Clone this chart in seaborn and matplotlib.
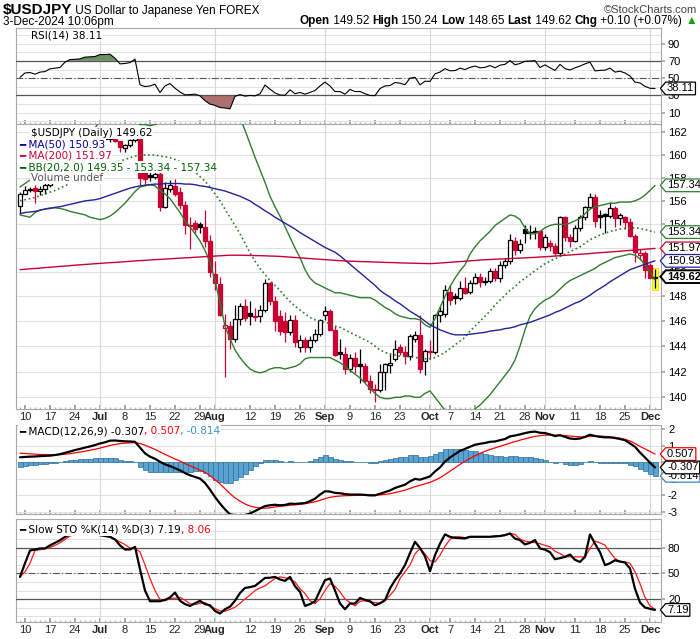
import numpy as np
import pandas as pd
import matplotlib
matplotlib.use("Agg")
import matplotlib.pyplot as plt
import seaborn as sns
from matplotlib.path import Path
from matplotlib.ticker import FixedLocator, NullLocator, FuncFormatter
from matplotlib.transforms import blended_transform_factory

sns.set_theme(style="white")
plt.rcParams["font.family"] = ["Liberation Sans", "DejaVu Sans"]

# ---------------------------------------------------------------- data
dates = pd.bdate_range("2024-06-07", "2024-12-03")

opens = [155.55, 156.6, 156.95, 157.1, 156.85, 157.0, 157.4, 157.6, 157.8, 158.1,
         158.9, 159.8, 159.7, 159.65, 160.75, 160.7, 160.85, 161.45, 161.45, 161.7,
         161.2, 160.6, 160.85, 161.3, 161.6, 158.5, 158.2, 158.05, 158.3, 155.5,
         157.0, 157.3, 156.75, 155.65, 153.9, 154.1, 154.0, 153.75, 152.6, 149.8,
         149.0, 145.45, 145.6, 144.6, 146.15, 147.2, 146.65, 146.45, 146.4, 146.9,
         149.1, 147.6, 146.4, 146.0, 145.1, 146.1, 143.9, 144.5, 143.95, 144.5,
         145.0, 146.5, 146.8, 145.3, 143.5, 143.35, 142.2, 143.1, 142.6, 142.45,
         141.3, 140.65, 140.55, 142.0, 142.5, 143.0, 143.9, 143.55, 143.2, 144.6,
         144.85, 142.8, 143.6, 143.55, 146.5, 146.6, 148.4, 148.0, 147.9, 148.7,
         148.35, 149.1, 149.6, 149.15, 149.25, 150.05, 149.5, 150.6, 150.9, 152.6,
         151.8, 153.6, 153.3, 153.35, 153.4, 152.05, 152.4, 152.15, 151.6, 154.6,
         152.95, 152.6, 153.7, 154.6, 155.5, 156.3, 154.75, 154.9, 154.7, 155.4,
         154.5, 154.6, 154.2, 153.05, 151.45, 151.6, 150.55, 149.52]
highs = [156.75, 157.25, 157.2, 157.4, 157.3, 157.9, 157.75, 157.9, 158.2, 159.0,
         159.9, 159.95, 159.85, 160.85, 160.9, 161.25, 161.65, 161.75, 161.95, 161.8,
         161.25, 161.0, 161.45, 161.75, 161.75, 159.45, 158.7, 158.85, 158.85, 157.65,
         157.8, 157.85, 157.2, 155.95, 154.6, 154.4, 154.2, 155.2, 153.1, 150.9,
         149.6, 146.6, 146.0, 147.3, 147.5, 147.8, 147.6, 147.1, 147.3, 149.4,
         149.2, 148.0, 146.9, 146.7, 146.5, 146.5, 144.9, 144.7, 144.8, 145.4,
         146.2, 147.2, 147.0, 145.6, 144.6, 143.9, 143.4, 143.5, 143.8, 142.7,
         141.7, 141.0, 142.6, 142.7, 143.4, 144.5, 144.2, 144.0, 145.0, 145.2,
         146.5, 143.8, 144.5, 146.6, 147.25, 148.9, 148.9, 148.3, 149.3, 149.6,
         149.35, 149.95, 149.9, 149.6, 150.3, 150.3, 150.9, 151.2, 153.2, 152.9,
         152.75, 153.9, 153.9, 153.75, 153.5, 153.2, 152.7, 152.4, 154.7, 154.7,
         153.2, 153.9, 154.8, 155.6, 156.7, 156.6, 155.2, 155.0, 155.9, 155.6,
         155.0, 154.7, 154.5, 153.2, 151.9, 151.75, 150.75, 150.24]
lows = [155.0, 156.55, 156.75, 155.85, 156.5, 156.6, 157.2, 157.55, 157.7, 157.9,
        158.8, 159.25, 159.4, 159.6, 160.3, 160.55, 160.8, 161.3, 161.15, 161.15,
        160.25, 160.25, 160.7, 161.1, 157.4, 157.4, 157.75, 157.9, 155.1, 155.4,
        156.8, 156.4, 155.3, 153.2, 151.95, 153.3, 153.3, 152.1, 149.6, 148.5,
        146.4, 141.6, 143.8, 144.3, 145.7, 146.0, 145.7, 146.0, 145.9, 146.7,
        147.3, 145.2, 144.9, 144.3, 144.9, 143.95, 143.5, 143.5, 143.5, 144.3,
        144.8, 146.1, 145.3, 143.2, 143.0, 141.8, 142.0, 141.9, 141.1, 141.2,
        140.3, 139.6, 140.4, 140.6, 141.9, 142.8, 143.3, 142.6, 142.9, 144.3,
        141.9, 141.7, 142.95, 143.4, 145.9, 146.3, 147.3, 147.35, 147.7, 148.2,
        148.2, 149.0, 148.8, 148.9, 149.1, 149.3, 149.2, 150.3, 150.7, 151.45,
        151.6, 152.4, 152.8, 152.8, 151.8, 151.8, 151.75, 151.3, 151.3, 152.6,
        152.1, 152.5, 153.4, 154.4, 155.3, 153.8, 153.7, 153.3, 154.5, 153.8,
        153.9, 153.6, 152.9, 150.8, 151.0, 149.5, 149.5, 148.65]
closes = [156.6, 156.95, 157.05, 156.85, 157.05, 157.4, 157.6, 157.8, 158.1, 158.9,
          159.8, 159.7, 159.65, 160.75, 160.7, 160.85, 161.45, 161.45, 161.7, 161.2,
          160.7, 160.85, 161.3, 161.6, 158.0, 157.85, 158.05, 158.3, 155.5, 157.1,
          157.4, 156.6, 155.65, 153.9, 153.85, 153.6, 153.75, 152.6, 150.0, 149.1,
          146.5, 145.7, 144.6, 146.15, 147.2, 146.25, 146.45, 146.3, 146.9, 149.1,
          147.6, 146.0, 145.2, 145.15, 146.1, 144.3, 144.5, 143.9, 144.5, 145.0,
          146.1, 146.8, 145.3, 143.3, 143.35, 142.2, 143.1, 142.4, 142.45, 141.3,
          140.65, 140.55, 142.0, 142.6, 142.7, 143.8, 143.55, 143.2, 144.8, 144.85,
          142.2, 143.6, 143.55, 146.5, 146.85, 148.5, 147.75, 147.85, 148.7, 148.3,
          149.1, 149.6, 149.15, 149.3, 150.05, 149.55, 150.6, 150.9, 152.7, 151.8,
          152.3, 153.3, 153.35, 153.4, 152.05, 152.95, 152.15, 151.6, 154.6, 152.95,
          152.6, 153.7, 154.6, 155.5, 156.3, 154.3, 154.65, 154.7, 155.4, 154.5,
          154.8, 154.2, 153.05, 151.65, 151.6, 150.15, 149.52, 149.62]

ma50 = [154.9, 155.0, 155.05, 155.1, 155.2, 155.3, 155.35, 155.45, 155.5, 155.6,
        155.7, 155.8, 155.9, 156.0, 156.05, 156.1, 156.2, 156.35, 156.5, 156.65,
        156.8, 156.95, 157.1, 157.2, 157.3, 157.35, 157.4, 157.45, 157.45, 157.5,
        157.5, 157.5, 157.5, 157.45, 157.45, 157.4, 157.3, 157.25, 157.15, 157.05,
        156.95, 156.85, 156.7, 156.55, 156.4, 156.2, 156.0, 155.7, 155.45, 155.15,
        154.9, 154.6, 154.35, 154.1, 153.85, 153.6, 153.3, 153.05, 152.8, 152.55,
        152.3, 152.05, 151.85, 151.65, 151.35, 151.0, 150.65, 150.3, 149.95, 149.6,
        149.25, 148.9, 148.5, 148.2, 147.95, 147.65, 147.4, 147.1, 146.8, 146.55,
        146.3, 146.0, 145.7, 145.5, 145.3, 145.15, 145.0, 144.9, 144.9, 144.9,
        144.95, 145.0, 145.05, 145.1, 145.2, 145.25, 145.3, 145.4, 145.45, 145.55,
        145.7, 145.8, 145.9, 146.05, 146.2, 146.35, 146.5, 146.7, 146.85, 147.05,
        147.25, 147.45, 147.6, 147.85, 148.1, 148.4, 148.65, 148.9, 149.2, 149.45,
        149.7, 149.95, 150.2, 150.35, 150.5, 150.65, 150.8, 150.93]
ma200 = [150.20, 150.23, 150.27, 150.30, 150.33, 150.37, 150.40, 150.43, 150.47, 150.50,
         150.53, 150.57, 150.60, 150.63, 150.66, 150.69, 150.72, 150.75, 150.78, 150.80,
         150.83, 150.86, 150.89, 150.92, 150.95, 150.97, 151.00, 151.03, 151.05, 151.08,
         151.10, 151.13, 151.15, 151.18, 151.20, 151.23, 151.25, 151.28, 151.30, 151.33,
         151.35, 151.38, 151.40, 151.40, 151.40, 151.39, 151.38, 151.37, 151.36, 151.35,
         151.33, 151.32, 151.30, 151.27, 151.24, 151.21, 151.18, 151.15, 151.12, 151.09,
         151.06, 151.03, 151.00, 150.97, 150.95, 150.92, 150.90, 150.89, 150.87, 150.86,
         150.85, 150.83, 150.82, 150.80, 150.79, 150.78, 150.76, 150.75, 150.74, 150.73,
         150.72, 150.71, 150.70, 150.72, 150.75, 150.78, 150.81, 150.84, 150.87, 150.90,
         150.93, 150.96, 151.00, 151.02, 151.04, 151.06, 151.08, 151.10, 151.12, 151.14,
         151.16, 151.18, 151.20, 151.22, 151.25, 151.27, 151.30, 151.33, 151.36, 151.39,
         151.42, 151.45, 151.48, 151.51, 151.54, 151.58, 151.61, 151.64, 151.67, 151.70,
         151.73, 151.77, 151.80, 151.83, 151.86, 151.90, 151.93, 151.97]
bb_mid = [156.0, 156.1, 156.2, 156.3, 156.45, 156.6, 156.75, 156.9, 157.1, 157.3,
          157.5, 157.7, 157.85, 158.05, 158.25, 158.45, 158.7, 158.9, 159.1, 159.3,
          159.45, 159.6, 159.75, 159.9, 159.95, 160.0, 160.0, 160.0, 159.9, 159.85,
          159.75, 159.6, 159.4, 159.1, 158.8, 158.5, 158.1, 157.7, 157.2, 156.6,
          156.0, 155.3, 154.6, 153.9, 153.2, 152.4, 151.6, 150.9, 150.3, 149.8,
          149.3, 148.9, 148.5, 148.0, 147.6, 147.2, 146.9, 146.6, 146.3, 146.1,
          146.0, 145.9, 145.8, 145.6, 145.5, 145.3, 145.1, 144.9, 144.7, 144.5,
          144.3, 144.0, 143.7, 143.5, 143.4, 143.3, 143.2, 143.2, 143.15, 143.1,
          143.05, 143.0, 143.0, 143.1, 143.3, 143.5, 143.8, 144.1, 144.4, 144.7,
          145.2, 145.6, 146.0, 146.4, 146.8, 147.3, 147.7, 148.1, 148.5, 148.8,
          149.2, 149.5, 149.8, 150.1, 150.4, 150.7, 150.9, 151.1, 151.3, 151.5,
          151.7, 151.9, 152.1, 152.4, 152.7, 152.9, 153.1, 153.25, 153.4, 153.5,
          153.6, 153.65, 153.7, 153.7, 153.65, 153.55, 153.45, 153.34]
bb_lower = [154.8, 154.7, 154.6, 155.0, 155.2, 155.3, 155.4, 155.4, 155.35, 155.25,
            155.1, 155.0, 154.9, 154.8, 154.6, 154.5, 154.4, 154.5, 154.7, 155.0,
            155.4, 155.8, 156.3, 156.8, 157.2, 157.3, 157.4, 157.3, 156.9, 156.6,
            156.2, 155.6, 155.0, 154.3, 153.8, 153.2, 152.6, 151.8, 150.8, 149.3,
            147.5, 145.6, 144.6, 143.7, 143.1, 142.6, 142.2, 142.0, 141.9, 142.0,
            142.2, 142.3, 142.3, 142.2, 142.3, 142.4, 142.6, 143.0, 143.1, 143.1,
            143.1, 143.1, 143.1, 142.9, 142.7, 142.4, 142.1, 141.8, 141.5, 141.1,
            140.7, 140.3, 140.0, 139.9, 139.9, 140.0, 140.0, 140.1, 140.1, 140.0,
            140.0, 140.3, 140.5, 140.0, 139.5, 139.0, 138.8, 138.7, 138.7, 138.8,
            138.9, 139.1, 139.4, 139.8, 140.2, 140.7, 141.2, 141.7, 142.2, 142.9,
            144.0, 145.3, 146.4, 147.0, 147.4, 147.7, 147.9, 148.2, 148.6, 149.0,
            149.3, 149.5, 149.7, 149.9, 150.1, 150.3, 150.6, 150.8, 151.0, 151.2,
            151.3, 151.4, 151.5, 151.4, 151.1, 150.6, 150.0, 149.35]
bb_upper = [157.2, 157.5, 157.8, 157.6, 157.7, 157.9, 158.1, 158.4, 158.85, 159.35,
            159.9, 160.4, 160.8, 161.3, 161.9, 162.4, 163.0, 163.3, 163.5, 163.6,
            163.5, 163.4, 163.2, 163.0, 162.7, 162.7, 162.6, 162.7, 162.9, 163.1,
            163.3, 163.6, 163.8, 163.9, 163.8, 163.8, 163.6, 163.6, 163.6, 163.9,
            164.5, 165.0, 164.6, 164.1, 163.3, 162.2, 161.0, 159.8, 158.7, 157.6,
            156.4, 155.5, 154.7, 153.8, 152.9, 152.0, 151.2, 150.2, 149.5, 149.1,
            148.9, 148.7, 148.5, 148.3, 148.3, 148.2, 148.1, 148.0, 147.9, 147.9,
            147.9, 147.7, 147.4, 147.1, 146.9, 146.6, 146.4, 146.3, 146.2, 146.2,
            146.1, 145.7, 145.5, 146.2, 147.1, 148.0, 148.8, 149.5, 150.1, 150.6,
            151.5, 152.1, 152.6, 153.0, 153.4, 153.9, 154.2, 154.5, 154.8, 154.7,
            154.4, 153.7, 153.2, 153.2, 153.4, 153.7, 153.9, 154.0, 154.0, 154.0,
            154.1, 154.3, 154.5, 154.9, 155.3, 155.5, 155.6, 155.7, 155.8, 155.8,
            155.9, 155.9, 155.9, 156.0, 156.2, 156.5, 156.9, 157.34]

rsi = [51, 56, 56.5, 54.6, 57, 57.6, 60.8, 61.5, 62.3, 68.5,
       71.5, 71.8, 72.3, 74.3, 74.6, 75, 77.3, 77.3, 77.7, 73,
       66.5, 67, 68, 72, 42.3, 40.3, 41, 43, 33.4, 41,
       43.8, 38.4, 34, 30.7, 31, 31.5, 29.5, 24, 20, 18.5,
       16, 15.5, 14.5, 29, 31, 29.2, 30, 29.5, 32, 42,
       37.3, 33, 30.5, 30.3, 36.5, 32, 33.5, 31.5, 33.5, 35.7,
       41, 45.4, 41, 34.5, 34.5, 31.5, 37, 34.5, 34.6, 32,
       30, 29.8, 38, 41, 41.5, 45, 44.2, 42.5, 50, 51,
       42.3, 46.5, 46.3, 55, 57, 61, 58.5, 58.8, 61.5, 60,
       62.5, 64, 62, 62.5, 64.6, 62, 65, 66, 70.3, 65.4,
       67, 69.5, 69.8, 70.3, 62.3, 65.4, 62, 59, 66, 61,
       59.5, 62, 64, 66.5, 68.5, 58.4, 59, 59.3, 61.6, 57,
       58, 56, 52.5, 45.4, 44.5, 40.5, 38.3, 38.11]

macd = [0.31, 0.33, 0.35, 0.36, 0.38, 0.40, 0.41, 0.45, 0.50, 0.58,
        0.66, 0.75, 0.82, 0.90, 0.97, 1.05, 1.15, 1.22, 1.32, 1.33,
        1.30, 1.28, 1.27, 1.25, 0.90, 0.55, 0.35, 0.22, 0.04, -0.12,
        -0.22, -0.35, -0.48, -0.65, -0.78, -0.88, -0.98, -1.25, -1.65, -2.10,
        -2.50, -2.85, -3.15, -3.20, -3.25, -3.20, -3.10, -2.95, -2.80, -2.65,
        -2.60, -2.57, -2.60, -2.58, -2.50, -2.52, -2.49, -2.47, -2.35, -2.20,
        -1.95, -1.75, -1.77, -1.85, -1.87, -1.92, -1.95, -1.95, -1.95, -1.97,
        -2.00, -2.00, -1.90, -1.80, -1.70, -1.55, -1.45, -1.35, -1.15, -1.00,
        -1.05, -0.95, -0.85, -0.55, -0.30, 0.05, 0.30, 0.50, 0.70, 0.82,
        0.95, 1.07, 1.13, 1.18, 1.25, 1.27, 1.35, 1.42, 1.58, 1.63,
        1.70, 1.78, 1.84, 1.87, 1.80, 1.78, 1.70, 1.60, 1.65, 1.55,
        1.45, 1.42, 1.45, 1.55, 1.68, 1.60, 1.55, 1.52, 1.52, 1.48,
        1.42, 1.35, 1.15, 0.95, 0.60, 0.30, -0.02, -0.307]
macd_signal = [0.56, 0.54, 0.52, 0.50, 0.48, 0.47, 0.46, 0.46, 0.47, 0.50,
               0.53, 0.58, 0.63, 0.68, 0.74, 0.80, 0.87, 0.95, 1.03, 1.09,
               1.14, 1.17, 1.19, 1.20, 1.15, 1.04, 0.92, 0.79, 0.64, 0.49,
               0.35, 0.21, 0.08, -0.07, -0.20, -0.33, -0.47, -0.60, -0.80, -1.05,
               -1.30, -1.60, -1.90, -2.15, -2.35, -2.52, -2.65, -2.72, -2.77, -2.78,
               -2.75, -2.70, -2.66, -2.63, -2.60, -2.57, -2.54, -2.50, -2.45, -2.39,
               -2.30, -2.20, -2.12, -2.07, -2.04, -2.02, -2.01, -2.00, -1.99, -1.98,
               -1.98, -1.98, -1.97, -1.94, -1.90, -1.83, -1.76, -1.68, -1.58, -1.47,
               -1.39, -1.30, -1.21, -1.08, -0.93, -0.74, -0.53, -0.33, -0.12, 0.07,
               0.24, 0.40, 0.55, 0.67, 0.79, 0.88, 0.98, 1.07, 1.17, 1.26,
               1.35, 1.43, 1.51, 1.58, 1.62, 1.65, 1.66, 1.65, 1.65, 1.63,
               1.60, 1.57, 1.55, 1.55, 1.58, 1.60, 1.60, 1.58, 1.55, 1.52,
               1.47, 1.40, 1.30, 1.15, 0.97, 0.82, 0.66, 0.507]

sto_k = [46, 62, 77, 78, 79.4, 79.4, 83, 86, 89, 93,
         96, 97, 97, 98, 97, 96, 95, 94, 93, 90,
         83, 78.2, 78.2, 81.3, 55, 30, 17.4, 17.4, 17.4, 19,
         21.8, 27.6, 18, 14, 11.9, 15, 17.8, 14, 12.7, 6,
         2.9, 8, 11, 18, 27, 33, 34, 35.4, 40, 44.8,
         45, 46, 43, 41.3, 46, 35, 28.4, 11.9, 14, 17.4,
         30, 42.1, 44.1, 30, 14.7, 8, 14.7, 14.7, 21.3, 19,
         17.4, 12.7, 15, 18.6, 32.4, 42.1, 50, 60, 74, 87.2,
         80, 70, 52.7, 71.5, 85, 95.9, 93, 91.9, 91.5, 91.2,
         93.1, 93.1, 93.1, 93.1, 93.1, 93.5, 94, 95, 97, 91,
         89.2, 84.1, 86, 89.2, 79.4, 78, 75, 66.8, 68, 69.5,
         72.3, 66, 63.6, 69.5, 95.9, 85, 75, 59.8, 62, 65.6,
         64, 62.9, 55.9, 32, 15.9, 10, 8.5, 7.19]
sto_d = [46, 52, 62, 77, 78, 79, 80.6, 83, 86, 90,
         94, 96, 97, 97, 97.5, 97, 96, 95, 94, 90,
         87, 84, 79.8, 79, 75.4, 60, 44.1, 30, 19.4, 18,
         20.6, 21, 22, 18.6, 14.5, 13.5, 15, 15.9, 11, 8.8,
         6, 5.6, 8, 10.3, 15, 20, 24.5, 30, 33, 35.4,
         40, 44, 46, 45, 43.3, 40, 32, 26.5, 18, 14.7,
         20, 30, 38.2, 35, 28.4, 20, 15.9, 12, 17.4, 18,
         16.5, 15.9, 15, 18, 24.5, 31, 44.1, 52, 60, 73,
         79.4, 73, 65, 63.6, 71.5, 82, 90, 93.1, 93.1, 92,
         93.1, 93.1, 93.1, 93.2, 93.3, 94, 94.5, 95.5, 97, 96,
         90.4, 88, 87, 86.3, 85, 83, 81.3, 76, 73.4, 70,
         69.5, 69.5, 69.5, 69.5, 79.4, 88, 86, 83.3, 75, 67.6,
         64, 63.6, 62, 52, 38, 22, 12, 8.06]

tick_dates = ["2024-06-10", "2024-06-17", "2024-06-24", "2024-07-01", "2024-07-08",
              "2024-07-15", "2024-07-22", "2024-07-29", "2024-08-01", "2024-08-12",
              "2024-08-19", "2024-08-26", "2024-09-02", "2024-09-09", "2024-09-16",
              "2024-09-23", "2024-10-01", "2024-10-07", "2024-10-14", "2024-10-21",
              "2024-10-28", "2024-11-01", "2024-11-11", "2024-11-18", "2024-11-25",
              "2024-12-02"]
tick_labels = ["10", "17", "24", "Jul", "8", "15", "22", "29", "Aug", "12", "19", "26",
               "Sep", "9", "16", "23", "Oct", "7", "14", "21", "28", "Nov", "11", "18",
               "25", "Dec"]
month_names = ["Jul", "Aug", "Sep", "Oct", "Nov", "Dec"]

# ---------------------------------------------------------------- frame
n = len(dates)
series = dict(open=opens, high=highs, low=lows, close=closes, ma50=ma50, ma200=ma200,
              bb_mid=bb_mid, bb_lower=bb_lower, bb_upper=bb_upper, rsi=rsi, macd=macd,
              signal=macd_signal, k=sto_k, d=sto_d)
for k_, v_ in series.items():
    assert len(v_) == n, (k_, len(v_))
df = pd.DataFrame(series)
df["i"] = np.arange(n)
df["hist"] = df["macd"] - df["signal"]
idx = df["i"].values
tick_pos = [dates.get_loc(pd.Timestamp(d)) for d in tick_dates]
month_pos = [p for p, l in zip(tick_pos, tick_labels) if l in month_names]

W, H = 700, 639
fig = plt.figure(figsize=(W / 100, H / 100), dpi=100)
fig.patch.set_facecolor("white")


def rect(x0, y0, x1, y1):
    return [x0 / W, 1 - y1 / H, (x1 - x0) / W, (y1 - y0) / H]


ax_rsi = fig.add_axes(rect(16, 28, 661, 124))
ax_px = fig.add_axes(rect(16, 124, 661, 409))
ax_macd = fig.add_axes(rect(16, 425, 661, 514))
ax_sto = fig.add_axes(rect(16, 519, 661, 622))
axes = [ax_rsi, ax_px, ax_macd, ax_sto]

GRID = "#e2e2e2"
EDGE = "#a8a8a8"
RED = "#cc0033"
GREEN = "#2f7d2f"
NAVY = "#22229c"
LEVEL = "#555555"


def line(ax, col, color, lw, ls="-", z=7):
    sns.lineplot(data=df, x="i", y=col, ax=ax, color=color, linewidth=lw,
                 linestyle=ls, legend=False, zorder=z)


# ---------------------------------------------------------------- price panel
ax = ax_px
O = df["open"].values; C = df["close"].values
Hi = df["high"].values; Lo = df["low"].values
prev = np.r_[O[0], C[:-1]]
col = np.where(C < prev, RED, "black")
face = np.where(C >= O, "white", col)
ax.bar(idx[-1], Hi[-1] * 1.0004 - Lo[-1] * 0.9993, bottom=Lo[-1] * 0.9993, width=1.35,
       color="#ffff30", edgecolor="#e6d200", linewidth=0.5, zorder=4)
ax.vlines(idx, Lo, Hi, colors=col, linewidth=0.9, zorder=5)
ax.bar(idx, np.maximum(np.abs(C - O), 0.02), bottom=np.minimum(O, C), width=0.62,
       color=face, edgecolor=col, linewidth=0.9, zorder=6)
line(ax, "bb_upper", GREEN, 1.0)
line(ax, "bb_lower", GREEN, 1.0)
line(ax, "bb_mid", GREEN, 1.2, ":")
line(ax, "ma50", NAVY, 1.0)
line(ax, "ma200", RED, 1.0)
ax.set_yscale("log")
ax.set_ylim(139.1, 162.75)
ax.yaxis.set_major_locator(FixedLocator(np.arange(140, 163, 2)))
ax.yaxis.set_major_formatter(FuncFormatter(lambda v, p: f"{v:.0f}"))
ax.yaxis.set_minor_locator(NullLocator())
ax.grid(axis="y", which="major", color=GRID, linewidth=0.8, zorder=0)

# ---------------------------------------------------------------- RSI
ax = ax_rsi
r = df["rsi"].values
ax.fill_between(idx, r, 70, where=r >= 70, interpolate=True, color="#6a9166", zorder=3, linewidth=0)
ax.fill_between(idx, r, 30, where=r <= 30, interpolate=True, color="#ad6f6f", zorder=3, linewidth=0)
for lv in (70, 30):
    ax.axhline(lv, color=LEVEL, linewidth=0.9, zorder=4)
ax.axhline(50, color=LEVEL, linewidth=0.8, linestyle=(0, (6, 2, 1, 2)), zorder=4)
line(ax, "rsi", "black", 0.8)
ax.set_ylim(-3, 108)
ax.yaxis.set_major_locator(FixedLocator([10, 30, 50, 70, 90]))
ax.yaxis.set_minor_locator(FixedLocator(np.arange(0, 101, 10)))
ax.grid(axis="y", which="both", color=GRID, linewidth=0.7, zorder=0)

# ---------------------------------------------------------------- MACD
ax = ax_macd
ax.bar(idx, df["hist"], width=1.0, color="#5aa3d1", edgecolor="#2d6f9c", linewidth=0.5, zorder=3)
line(ax, "signal", "#ff0000", 0.9)
line(ax, "macd", "black", 1.6, z=8)
ax.set_ylim(-3.13, 2.27)
ax.yaxis.set_major_locator(FixedLocator([-3, -2, -1, 0, 1, 2]))
ax.yaxis.set_major_formatter(FuncFormatter(lambda v, p: f"{v:.0f}"))
ax.grid(axis="y", which="major", color=GRID, linewidth=0.8, zorder=0)

# ---------------------------------------------------------------- STO
ax = ax_sto
for lv in (80, 20):
    ax.axhline(lv, color=LEVEL, linewidth=0.9, zorder=4)
ax.axhline(50, color=LEVEL, linewidth=0.8, linestyle=(0, (6, 2, 1, 2)), zorder=4)
line(ax, "d", "#ff1a1a", 0.9)
line(ax, "k", "black", 1.6, z=8)
ax.set_ylim(-7, 114)
ax.yaxis.set_major_locator(FixedLocator([20, 50, 80]))
ax.yaxis.set_minor_locator(FixedLocator(np.arange(0, 101, 10)))
ax.grid(axis="y", which="both", color=GRID, linewidth=0.7, zorder=0)

# ---------------------------------------------------------------- common styling
for ax in axes:
    ax.set_facecolor("white")
    ax.set_xlabel("")
    ax.set_ylabel("")
    ax.set_xlim(-0.8, n + 0.2)
    for s in ax.spines.values():
        s.set_color(EDGE)
        s.set_linewidth(0.8)
    for p in month_pos:
        ax.axvline(p, color="#d8d8d8", linewidth=0.8, zorder=1)
    ax.yaxis.tick_right()
    ax.tick_params(axis="y", which="major", labelsize=8, length=3, color=EDGE, pad=2,
                   right=True, left=False, labelcolor="black")
    ax.tick_params(axis="y", which="minor", length=0)
    ax.set_xticks(tick_pos)
    ax.xaxis.set_minor_locator(FixedLocator(idx))
    ax.tick_params(axis="x", which="major", direction="in", length=3, color="#999999",
                   labelsize=8, pad=2, bottom=True, top=False)
    ax.tick_params(axis="x", which="minor", direction="in", length=1.5, color="#bbbbbb",
                   bottom=True, top=False)
    if ax in (ax_px, ax_sto):
        ax.set_xticklabels(tick_labels)
        for lbl in ax.get_xticklabels():
            if lbl.get_text() in month_names:
                lbl.set_fontweight("bold")
    else:
        ax.tick_params(axis="x", labelbottom=False)


# ---------------------------------------------------------------- value tags
def tag_shape(x0, y0, width, height, mutation_size):
    pad = mutation_size * 0.12
    x0, y0 = x0 - pad, y0 - pad
    w, h = width + 2 * pad, height + 2 * pad
    x1, y1 = x0 + w, y0 + h
    tip = h * 0.42
    verts = [(x0, y0), (x1, y0), (x1, y1), (x0, y1), (x0 - tip, y0 + h / 2), (x0, y0)]
    codes = [Path.MOVETO] + [Path.LINETO] * 4 + [Path.CLOSEPOLY]
    return Path(verts, codes)


def tag(ax, val, txt, ec, lw=0.9, weight="normal"):
    tr = blended_transform_factory(ax.transAxes, ax.transData)
    ax.text(1.0 + 6 / 645, val, txt, transform=tr, ha="left", va="center", fontsize=8,
            fontweight=weight, color="black", clip_on=False, zorder=30,
            bbox=dict(boxstyle=tag_shape, fc="white", ec=ec, lw=lw))


last = n - 1
tag(ax_px, bb_upper[last], f"{bb_upper[last]:.2f}", GREEN)
tag(ax_px, bb_mid[last], f"{bb_mid[last]:.2f}", GREEN)
tag(ax_px, ma200[last], f"{ma200[last]:.2f}", RED)
tag(ax_px, ma50[last], f"{ma50[last]:.2f}", NAVY)
tag(ax_px, closes[last], f"{closes[last]:.2f}", "black", lw=1.4, weight="bold")
tag(ax_rsi, rsi[last], f"{rsi[last]:.2f}", "black")
tag(ax_macd, df["hist"].iloc[-1], f"{df['hist'].iloc[-1]:.3f}", "#3f86bd")
tag(ax_macd, macd_signal[last], f"{macd_signal[last]:.3f}", "#ff0000")
tag(ax_macd, macd[last], f"{macd[last]:.3f}", "black")
tag(ax_sto, sto_k[last], f"{sto_k[last]:.2f}", "black")


# ---------------------------------------------------------------- legends / header
def chain(ax, x_px, y_px, parts, size=7.5, family="DejaVu Sans", bg=True, right=False):
    pieces = parts[::-1] if right else parts
    t = None
    for piece in pieces:
        s, c, w = piece[:3]
        sz = piece[3] if len(piece) > 3 else size
        kw = dict(color=c, fontsize=sz, fontweight=w, family=family, zorder=40)
        if bg:
            kw["bbox"] = dict(fc="white", ec="none", pad=0.4)
        if t is None:
            t = ax.text(x_px / W, 1 - y_px / H, s, transform=fig.transFigure,
                        ha="right" if right else "left", va="center", **kw)
        else:
            t = ax.annotate(s, xy=(0, 0) if right else (1, 0), xycoords=t,
                            ha="right" if right else "left", va="bottom",
                            annotation_clip=False, **kw)
    return t


chain(ax_rsi, 31, 35, [("RSI(14) 38.11", "black", "normal")])
chain(ax_px, 31, 133, [("$USDJPY (Daily) 149.62", "black", "normal")])
chain(ax_px, 19, 145, [("\u2501 MA(50) 150.93", "#000099", "normal")])
chain(ax_px, 19, 156, [("\u2501 MA(200) 151.97", RED, "normal")])
chain(ax_px, 19, 167, [("\u2501 BB(20,2.0) 149.35 - 153.34 - 157.34", "#006600", "normal")])
chain(ax_px, 31, 178, [("Volume undef", "#555555", "normal")])
chain(ax_macd, 19, 431, [("\u2501 MACD(12,26,9) -0.307", "black", "normal"),
                         (", 0.507", "#ff0000", "normal"), (", -0.814", "#3f8fc8", "normal")])
chain(ax_sto, 19, 530, [("\u2501 Slow STO %K(14) %D(3) 7.19", "black", "normal"),
                        (", 8.06", "#ff0000", "normal")])

chain(ax_rsi, 3, 10, [("$USDJPY", "black", "bold", 11), (" US Dollar to Japanese Yen ", "black", "normal", 8.5),
                      ("FOREX", "black", "normal", 8.5)], family="Liberation Sans", bg=False)
chain(ax_rsi, 3, 22, [("3-Dec-2024 10:06pm", "black", "normal")], size=8.5,
      family="Liberation Sans", bg=False)
chain(ax_rsi, 697, 10, [("\u00a9StockCharts.com", "#444444", "normal")], size=8,
      family="Liberation Sans", bg=False, right=True)
chain(ax_rsi, 697, 21, [("Open", "black", "bold"), (" 149.52 ", "black", "normal"),
                        ("High", "black", "bold"), (" 150.24 ", "black", "normal"),
                        ("Low", "black", "bold"), (" 148.65 ", "black", "normal"),
                        ("Last", "black", "bold"), (" 149.62 ", "black", "normal"),
                        ("Chg", "black", "bold"), (" +0.10 (+0.07%) ", "black", "normal"),
                        ("\u25b2", "#10a010", "normal")],
      size=8.5, family="Liberation Sans", bg=False, right=True)

fig.savefig("out.png", dpi=100)
